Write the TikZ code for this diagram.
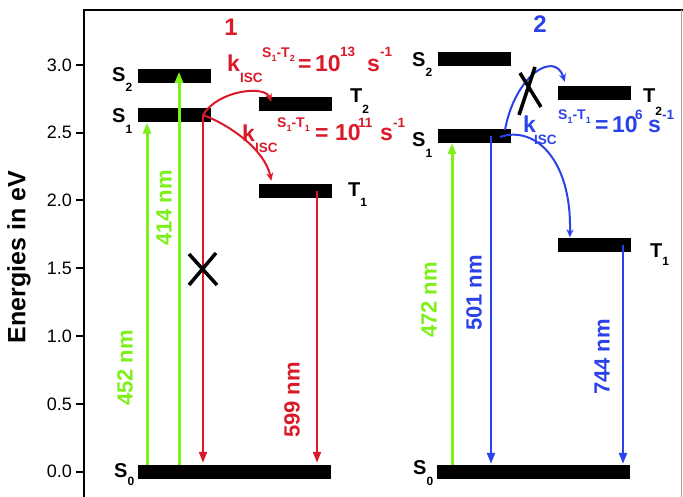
\documentclass[tikz,border=0pt]{standalone}
\usepackage{fontspec}
\setmainfont{Liberation Sans}
\usetikzlibrary{arrows.meta,calc}
\definecolor{grn}{RGB}{125,240,25}
\definecolor{rd}{RGB}{218,26,40}
\definecolor{bl}{RGB}{42,66,232}
\newcommand{\fs}[1]{\fontsize{#1}{#1}\selectfont}
\newcommand{\lvlab}[3]{{\fs{20}#1}\raisebox{-#3pt}{\fs{12}#2}}
\newcommand{\stpair}[1]{S\raisebox{-4pt}{\fs{9}1}-T\raisebox{-4pt}{\fs{9}#1}}
\tikzset{
  lvl/.style={rectangle,fill=black,draw=none,inner sep=0pt,minimum height=14pt,minimum width=73pt},
  lab/.style={anchor=base west,inner sep=0pt,font=\bfseries},
  tick/.style={anchor=east,inner sep=0pt,font=\fs{18}},
  wl/.style={rotate=90,inner sep=0pt,font=\fs{22}\bfseries},
  garr/.style={grn,line width=3pt,-{Triangle[length=11pt,width=8pt]}},
  rarr/.style={rd,line width=2.2pt,-{Triangle[length=11pt,width=8pt]}},
  barr/.style={bl,line width=2.2pt,-{Triangle[length=11pt,width=8pt]}},
  rcurve/.style={rd,line width=2pt,-{Stealth[length=8pt,width=7pt]}},
  bcurve/.style={bl,line width=2pt,-{Stealth[length=8pt,width=7pt]}},
  cross/.style={black,line width=3.5pt},
  rbig/.style={anchor=base west,inner sep=0pt,font=\fs{23}\bfseries},
  rsml/.style={anchor=base west,inner sep=0pt,font=\fs{13.5}\bfseries},
  rsup/.style={anchor=base west,inner sep=0pt,font=\fs{14}\bfseries}
}
\begin{document}
\begin{tikzpicture}[x=1pt,y=-1pt]
\useasboundingbox (0,0) rectangle (683,497);
% frame
\draw[line width=2.5pt] (84,497) -- (84,10) -- (683,10);
\draw[gray!70,line width=1pt] (681,10) -- (681,497);
% ticks
\foreach \v/\yy in {0.0/471.7,0.5/403.9,1.0/336.1,1.5/268.3,2.0/200.5,2.5/132.7,3.0/64.9}{
  \draw[line width=2pt] (76,\yy) -- (84,\yy);
}
\node[tick] (t00) at (72,471.7) {0.0};
\node[tick] (t05) at (72,403.9) {0.5};
\node[tick] (t10) at (72,336.1) {1.0};
\node[tick] (t15) at (72,268.3) {1.5};
\node[tick] (t20) at (72,200.5) {2.0};
\node[tick] (t25) at (72,132.7) {2.5};
\node[tick] (t30) at (72,64.9) {3.0};
\node[rotate=90,inner sep=0pt,font=\fs{25}\bfseries] (ylab) at (19,257) {Energies in eV};
% titles
\node[inner sep=0pt,font=\fs{24}\bfseries,text=rd] (m1) at (231,27) {1};
\node[inner sep=0pt,font=\fs{24}\bfseries,text=bl] (m2) at (540,24) {2};
% levels molecule 1
\node[lvl] (S2a) at (174.5,76) {};
\node[lvl] (S1a) at (174.5,115.5) {};
\node[lvl] (T2a) at (295,104) {};
\node[lvl] (T1a) at (295,191) {};
\node[lvl,minimum width=193pt] (S0a) at (234.5,472) {};
% levels molecule 2
\node[lvl] (S2b) at (474.5,59) {};
\node[lvl] (S1b) at (474.5,136) {};
\node[lvl] (T2b) at (594.5,93) {};
\node[lvl] (T1b) at (594.5,245.5) {};
\node[lvl,minimum width=193pt] (S0b) at (533.5,472) {};
% level labels
\node[lab] (lS2a) at (112,82) {\lvlab{S}{2}{10}};
\node[lab] (lS1a) at (112,123) {\lvlab{S}{1}{11}};
\node[lab] (lS0a) at (114,477) {\lvlab{S}{0}{8}};
\node[lab] (lT2a) at (350,103) {\lvlab{T}{2}{11}};
\node[lab] (lT1a) at (348,197) {\lvlab{T}{1}{10}};
\node[lab] (lS2b) at (412,67) {\lvlab{S}{2}{10}};
\node[lab] (lS1b) at (412,147) {\lvlab{S}{1}{11}};
\node[lab] (lS0b) at (413,474) {\lvlab{S}{0}{11}};
\node[lab] (lT2b) at (643,103) {\lvlab{T}{2}{13}};
\node[lab] (lT1b) at (650,258) {\lvlab{T}{1}{8}};
% x positions
\coordinate (xg1) at (147,0);
\coordinate (xg2) at (179,0);
\coordinate (xr1) at (203,0);
\coordinate (xr2) at (317,0);
\coordinate (xg3) at (452,0);
\coordinate (xb1) at (491,0);
\coordinate (xb2) at (623,0);
% vertical transitions molecule 1
\draw[garr] (S0a.north -| xg1) -- (S1a.south -| xg1);
\draw[garr] (S0a.north -| xg2) -- ($(S2a.north -| xg2)+(0,3)$);
\draw[rarr] (S1a.center -| xr1) -- ($(S0a.north -| xr1)+(0,-2)$);
\draw[rarr] (T1a.center -| xr2) -- ($(S0a.north -| xr2)+(0,-2)$);
% vertical transitions molecule 2
\draw[garr] (S0b.north -| xg3) -- (S1b.south -| xg3);
\draw[barr] (S1b.center -| xb1) -- ($(S0b.north -| xb1)+(0,-1)$);
\draw[barr] (T1b.center -| xb2) -- ($(S0b.north -| xb2)+(0,-1)$);
% wavelength labels
\node[wl,text=grn] (w452) at (125,368) {452 nm};
\node[wl,text=grn] (w414) at (164,208) {414 nm};
\node[wl,text=rd] (w599) at (292,400) {599 nm};
\node[wl,text=grn] (w472) at (429,300) {472 nm};
\node[wl,text=bl] (w501) at (474,293) {501 nm};
\node[wl,text=bl] (w744) at (602,357) {744 nm};
% ISC curves molecule 1
\coordinate (isc1) at (203,115);
\draw[rcurve] (isc1) .. controls (218,90) and (265,85) .. ($(T2a.north west)+(13,5)$);
\draw[rcurve] (isc1) .. controls (230,125) and (265,150) .. ($(T1a.north west)+(13,-3)$);
% ISC curves molecule 2
\coordinate (isc2a) at (505,130);
\coordinate (isc2b) at (500,137);
\draw[bcurve] (isc2a) .. controls (515,75) and (555,50) .. ($(T2b.north west)+(7,-4)$);
\draw[bcurve] (isc2b) .. controls (535,125) and (572,160) .. ($(T1b.north west)+(12,-1)$);
% crosses
\coordinate (xa1) at (189,254); \coordinate (xa2) at (217,285);
\coordinate (xa3) at (216,253); \coordinate (xa4) at (189,285);
\draw[cross] (xa1) -- (xa2); \draw[cross] (xa3) -- (xa4);
\coordinate (xb1a) at (520,73); \coordinate (xb1b) at (541,107);
\coordinate (xb2a) at (535,67); \coordinate (xb2b) at (519,115);
\draw[cross] (xb1a) -- (xb1b); \draw[cross] (xb2a) -- (xb2b);
% rate text, S1-T2 of 1
\begin{scope}[text=rd]
\node[rbig] (r1k) at (227,72) {k};
\node[rsml] (r1i) at (240,83) {ISC};
\node[rsup] (r1s) at (262,58) {\stpair{2}};
\node[rbig] (r1e) at (298,72) {=};
\node[rbig] (r1n) at (315,72) {10};
\node[rsml] (r1x) at (340,57) {13};
\node[rbig] (r1u) at (367,72) {s};
\node[rsml] (r1m) at (380,57) {-1};
% rate text, S1-T1 of 1
\node[rbig] (r2k) at (242,142) {k};
\node[rsml] (r2i) at (255,153) {ISC};
\node[rsup] (r2s) at (277,128) {\stpair{1}};
\node[rbig] (r2e) at (315,141) {=};
\node[rbig] (r2n) at (335,141) {10};
\node[rsml] (r2x) at (358,128) {11};
\node[rbig] (r2u) at (380,141) {s};
\node[rsml] (r2m) at (393,128) {-1};
\end{scope}
% rate text, S1-T1 of 2
\begin{scope}[text=bl]
\node[rbig] (r3k) at (523,133) {k};
\node[rsml] (r3i) at (534,145) {ISC};
\node[rsup] (r3s) at (558,120) {\stpair{1}};
\node[rbig] (r3e) at (595,133) {=};
\node[rbig] (r3n) at (612,133) {10};
\node[rsml] (r3x) at (635,120) {6};
\node[rbig] (r3u) at (648,133) {s};
\node[rsml] (r3m) at (662,120) {-1};
\end{scope}
\end{tikzpicture}
\end{document}
